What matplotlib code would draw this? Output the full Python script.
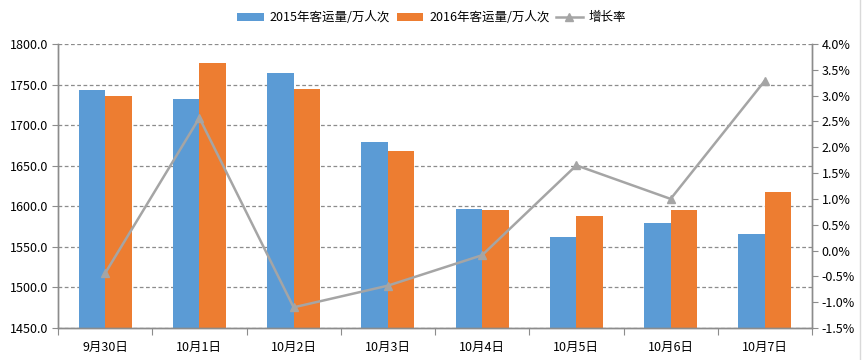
import matplotlib.pyplot as plt
import numpy as np
from matplotlib.lines import Line2D
from matplotlib.ticker import FuncFormatter

plt.rcParams['font.family'] = ['Noto Sans CJK SC', 'DejaVu Sans']
plt.rcParams['font.size'] = 9

# Data
dates = ['9月30日', '10月1日', '10月2日', '10月3日', '10月4日', '10月5日', '10月6日', '10月7日']
traffic_2015 = [1743, 1732, 1764, 1679, 1597, 1562, 1580, 1566]
traffic_2016 = [1736, 1777, 1745, 1668, 1595, 1588, 1596, 1617]
growth_rate = [-0.44, 2.57, -1.10, -0.68, -0.09, 1.65, 1.00, 3.29]  # percent

blue = '#5B9BD5'
orange = '#ED7D31'
gray = '#A5A5A5'
axis_gray = '#8C8C8C'

fig = plt.figure(figsize=(8.63, 3.6), dpi=100)
ax = fig.add_axes([58 / 863, 1 - 328 / 360, (812 - 58) / 863, (328 - 44) / 360])
ax2 = ax.twinx()

x = np.arange(len(dates))
width = 0.28
ax.bar(x - width / 2, traffic_2015, width, color=blue, label='2015年客运量/万人次', zorder=2)
ax.bar(x + width / 2, traffic_2016, width, color=orange, label='2016年客运量/万人次', zorder=2)

ax2.plot(x, growth_rate, color=gray, lw=1.8, marker='^', markersize=6,
         label='增长率', zorder=3)

# left axis
ax.set_xlim(-0.5, len(dates) - 0.5)
ax.set_ylim(1450, 1800)
ax.set_yticks(np.arange(1450, 1801, 50))
ax.yaxis.set_major_formatter(FuncFormatter(lambda v, p: f'{v:.1f}'))
ax.yaxis.grid(True, linestyle=(0, (3, 2)), color=axis_gray, lw=0.9, zorder=0)
ax.set_axisbelow(True)

# category ticks between groups
ax.set_xticks(np.arange(-0.5, len(dates), 1.0))
ax.set_xticklabels([])
ax.set_xticks(x, minor=True)
ax.set_xticklabels(dates, minor=True)
ax.tick_params(axis='x', which='major', length=5, color=axis_gray, direction='out')
ax.tick_params(axis='x', which='minor', length=0, pad=9)
ax.tick_params(axis='y', length=4, color=axis_gray, pad=3)

# right axis
ax2.set_ylim(-1.5, 4.0)
ax2.set_yticks(np.arange(-1.5, 4.01, 0.5))
ax2.yaxis.set_major_formatter(FuncFormatter(lambda v, p: f'{v:.1f}%'))
ax2.tick_params(axis='y', length=4, color=axis_gray, pad=3)

for a in (ax, ax2):
    a.spines['top'].set_visible(False)
    for s in ('left', 'right', 'bottom'):
        a.spines[s].set_color(axis_gray)
        a.spines[s].set_linewidth(1.0)

h1, l1 = ax.get_legend_handles_labels()
h2, l2 = ax2.get_legend_handles_labels()
fig.legend(h1 + h2, l1 + l2, loc='upper center', bbox_to_anchor=(0.5, 1.0), ncol=3,
           frameon=False, handlelength=2.15, handleheight=0.7, columnspacing=0.5,
           handletextpad=0.45, fontsize=9)

# faint outer chart border on the right
fig.add_artist(Line2D([860 / 863, 860 / 863], [0, 1], color='#D9D9D9', lw=1))

fig.savefig('out.png', dpi=100)
